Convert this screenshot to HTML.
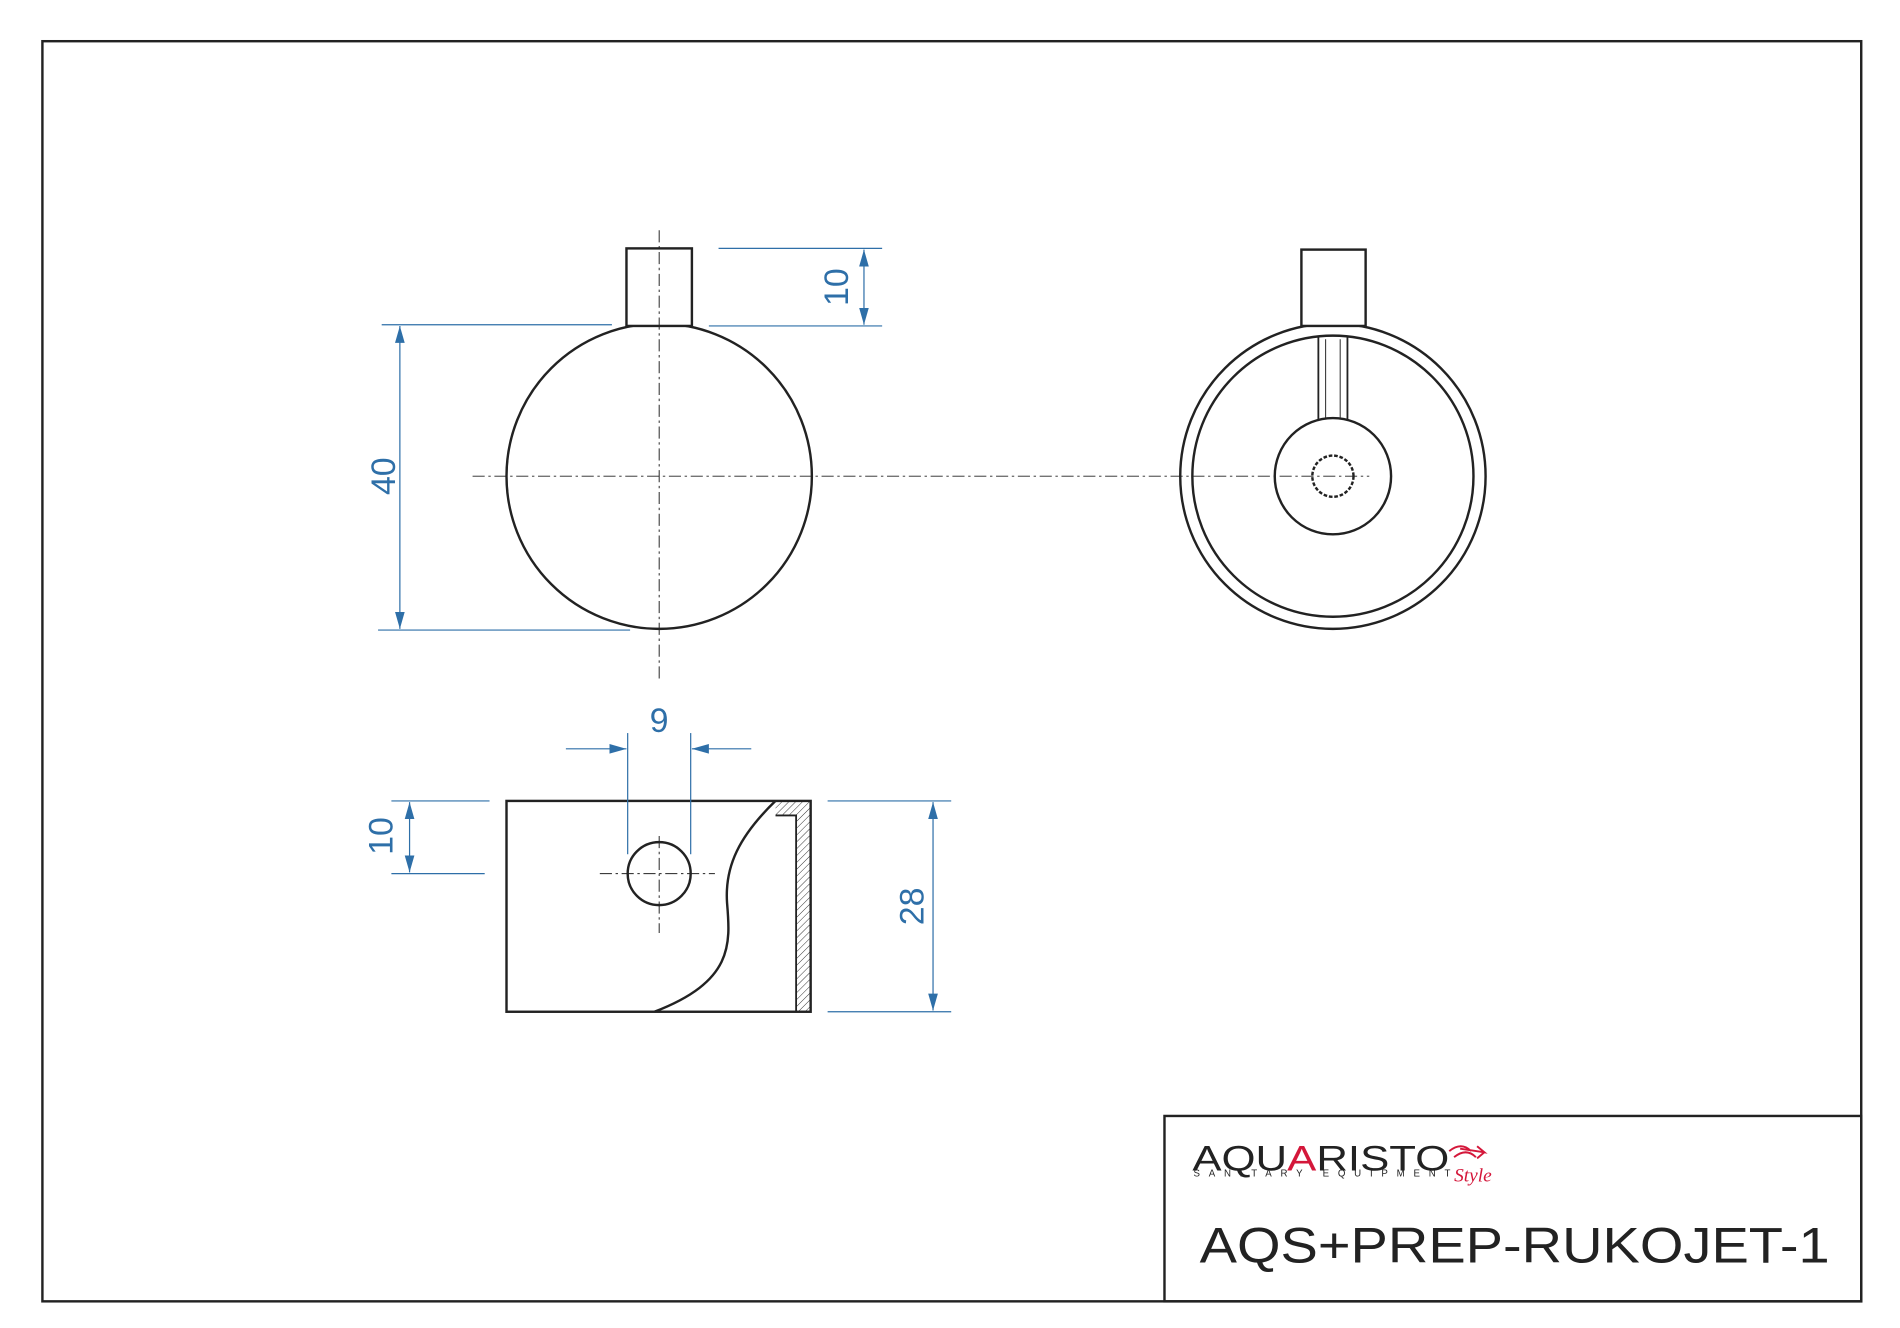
<!DOCTYPE html>
<html><head><meta charset="utf-8"><style>html,body{margin:0;padding:0;background:#fff}svg{display:block}</style></head>
<body>
<svg width="1900" height="1328" viewBox="0 0 1568 1096" preserveAspectRatio="none" xmlns="http://www.w3.org/2000/svg">
<defs>
<pattern id="h" width="4" height="4" patternUnits="userSpaceOnUse" patternTransform="rotate(45)"><line x1="0" y1="0" x2="0" y2="4" stroke="#333" stroke-width="0.8"/></pattern>
<marker id="a" viewBox="0 0 14 10" refX="14" refY="5" markerWidth="14" markerHeight="10" markerUnits="userSpaceOnUse" orient="auto-start-reverse"><path d="M0,1 L14,5 L0,9 z" fill="#2e6fa8"/></marker>
</defs>
<rect x="35" y="34" width="1501" height="1040" fill="none" stroke="#222" stroke-width="2"/>
<rect x="961" y="921" width="575" height="153" fill="none" stroke="#222" stroke-width="2"/>
<g font-family="Liberation Sans, sans-serif">
<text x="984" y="966" font-size="29" fill="#222" textLength="212" lengthAdjust="spacingAndGlyphs">AQU<tspan fill="#d4173a">A</tspan>RISTO</text>
<text x="985" y="971" font-size="8" fill="#222" textLength="212" lengthAdjust="spacing">SANITARY EQUIPMENT</text>
<path d="M1196,950 q10,-8 18,0 M1200,955 q10,-8 18,0 M1205,948 l20,3 l-6,-5 M1225,951 l-6,5" stroke="#d4173a" fill="none" stroke-width="1.6"/>
<text x="1200" y="975" font-size="16" font-style="italic" fill="#d4173a" font-family="Liberation Serif, serif">Style</text>
<text x="990" y="1042" font-size="41" fill="#222" textLength="520" lengthAdjust="spacingAndGlyphs">AQS+PREP-RUKOJET-1</text>
</g>
<g stroke="#222" stroke-width="2" fill="none">
<circle cx="544" cy="393" r="126"/>
<rect x="517" y="205" width="54" height="64" fill="#fff"/>
<circle cx="1100" cy="393" r="126"/>
<circle cx="1100" cy="393" r="116"/>
<rect x="1074" y="206" width="53" height="63" fill="#fff"/>
<path d="M1088,278 V347 M1112,278 V347" stroke-width="1.5"/>
<path d="M1094,280 V345 M1106,280 V345" stroke-width="0.8"/>
<circle cx="1100" cy="393" r="48" fill="#fff"/>
<circle cx="1100" cy="393" r="17" stroke-dasharray="3 1.5"/>
<circle cx="544" cy="721" r="26"/>
<path d="M640,661 C610,690 598,715 600,745 C603,780 605,810 540,835"/>
</g>
<path d="M640,661 L669,661 L669,835 L657,835 L657,673 L640,673 Z" fill="url(#h)" stroke="none"/>
<path d="M640,673 L657,673 L657,835" fill="none" stroke="#222" stroke-width="1.5"/>
<rect x="418" y="661" width="251" height="174" fill="none" stroke="#222" stroke-width="2"/>
<g stroke="#222" stroke-width="0.8" stroke-dasharray="10 3 2 3" fill="none">
<line x1="544" y1="190" x2="544" y2="560"/>
<line x1="390" y1="393" x2="1130" y2="393"/>
<line x1="495" y1="721" x2="590" y2="721"/>
<line x1="544" y1="690" x2="544" y2="770"/>
</g>
<g stroke="#2e6fa8" stroke-width="1" fill="none">
<line x1="593" y1="205" x2="728" y2="205"/><line x1="585" y1="269" x2="728" y2="269"/>
<line x1="713" y1="206" x2="713" y2="268" marker-start="url(#a)" marker-end="url(#a)"/>
<line x1="315" y1="268" x2="505" y2="268"/><line x1="312" y1="520" x2="520" y2="520"/>
<line x1="330" y1="269" x2="330" y2="519" marker-start="url(#a)" marker-end="url(#a)"/>
<line x1="518" y1="605" x2="518" y2="705"/><line x1="570" y1="605" x2="570" y2="705"/>
<line x1="467" y1="618" x2="517" y2="618" marker-end="url(#a)"/>
<line x1="620" y1="618" x2="571" y2="618" marker-end="url(#a)"/>
<line x1="323" y1="661" x2="404" y2="661"/><line x1="323" y1="721" x2="400" y2="721"/>
<line x1="338" y1="662" x2="338" y2="720" marker-start="url(#a)" marker-end="url(#a)"/>
<line x1="683" y1="661" x2="785" y2="661"/><line x1="683" y1="835" x2="785" y2="835"/>
<line x1="770" y1="662" x2="770" y2="834" marker-start="url(#a)" marker-end="url(#a)"/>
</g>
<g font-family="Liberation Sans, sans-serif" font-size="28" fill="#2e6fa8" text-anchor="middle">
<text transform="translate(700,237) rotate(-90)">10</text>
<text transform="translate(326,393) rotate(-90)">40</text>
<text transform="translate(324,690) rotate(-90)">10</text>
<text transform="translate(762,748) rotate(-90)">28</text>
<text transform="translate(544,592) rotate(180)" dominant-baseline="middle">6</text>
</g>
</svg>
</body></html>
